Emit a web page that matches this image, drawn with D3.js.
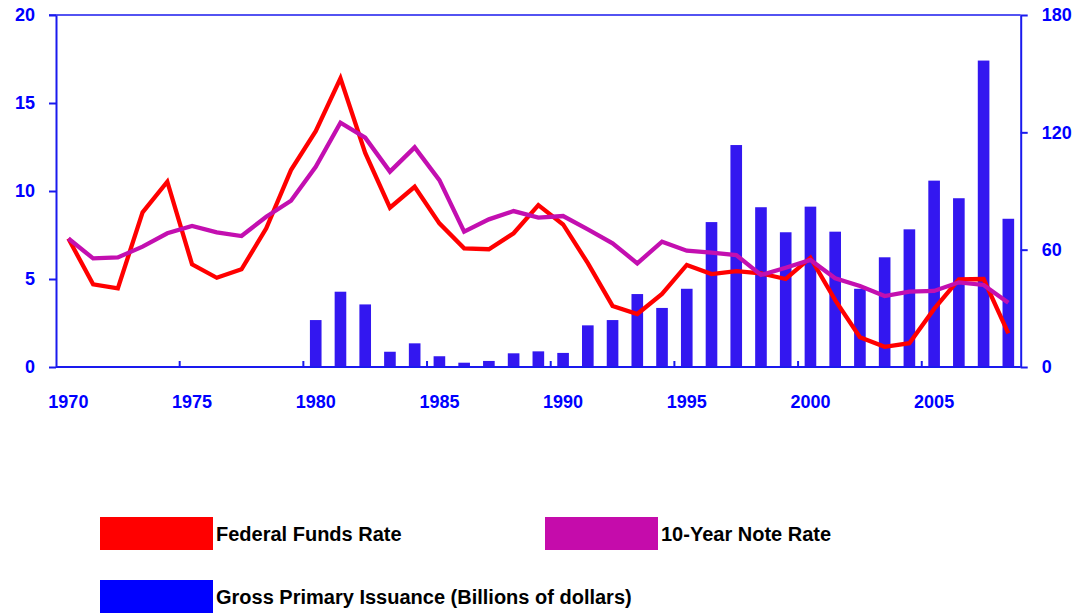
<!DOCTYPE html>
<html>
<head>
<meta charset="utf-8">
<script src="https://cdn.jsdelivr.net/npm/d3@7"></script>
<style>
  body { margin: 0; background: #fff; }
  text { font-family: 'Liberation Sans', Arial, sans-serif; font-weight: bold; }
</style>
</head>
<body>
<div id="chart"></div>
<script>
const years = d3.range(1970, 2009)

// Federal funds rate, percent (left axis)
const fedFunds = [7.3, 4.7, 4.47, 8.79, 10.53, 5.83, 5.07, 5.55, 7.88, 11.19,
  13.4, 16.4, 12.16, 9.05, 10.24, 8.16, 6.74, 6.69, 7.6, 9.2,
  8.1, 5.9, 3.47, 3.01, 4.15, 5.8, 5.28, 5.45, 5.32, 5.0,
  6.21, 3.8, 1.69, 1.15, 1.35, 3.3, 4.98, 5.0, 1.91]

// 10-year note rate, percent (left axis)
const tenYear = [7.3, 6.17, 6.23, 6.84, 7.6, 8.01, 7.65, 7.44, 8.54, 9.45,
  11.38, 13.88, 13.03, 11.1, 12.48, 10.62, 7.69, 8.39, 8.86, 8.49,
  8.58, 7.82, 7.03, 5.89, 7.12, 6.61, 6.5, 6.36, 5.23, 5.64,
  6.08, 5.04, 4.6, 4.03, 4.28, 4.32, 4.81, 4.66, 3.65]

// Gross primary issuance, billions of dollars (right axis), from 1980
const issuanceYears = d3.range(1980, 2009)
const issuance = [24.0, 38.5, 32.0, 7.8, 12.1, 5.5, 2.2, 3.1, 7.0, 8.0,
  7.2, 21.3, 24.0, 37.3, 30.2, 40.0, 74.1, 113.5, 81.7, 68.9,
  82.0, 69.2, 40.0, 56.1, 70.4, 95.3, 86.3, 156.7, 75.8]

const leftTicks = [0, 5, 10, 15, 20]
const rightTicks = [0, 60, 120, 180]
const labelYears = [1970, 1975, 1980, 1985, 1990, 1995, 2000, 2005]

const blue = '#1a1aee'
const width = 1089
const height = 614
const plot = { left: 56, right: 1020.7, top: 15, bottom: 367 }

const svg = d3
  .select('#chart')
  .append('svg')
  .attr('width', width)
  .attr('height', height)

const x = d3.scaleBand().domain(years).range([plot.left, plot.right]).padding(0)
const yLeft = d3.scaleLinear().domain([0, 20]).range([plot.bottom, plot.top])
const yRight = d3.scaleLinear().domain([0, 180]).range([plot.bottom, plot.top])

// bars
svg
  .selectAll('.bar')
  .data(issuanceYears.map((yr, i) => ({ year: yr, value: issuance[i] })))
  .enter()
  .append('rect')
  .attr('class', 'bar')
  .attr('x', d => x(d.year) + x.bandwidth() * 0.265)
  .attr('width', x.bandwidth() * 0.47)
  .attr('y', d => yRight(d.value))
  .attr('height', d => yRight(0) - yRight(d.value))
  .attr('fill', '#3317f0')

// lines
const line = d3
  .line()
  .x((d, i) => x(years[i]) + x.bandwidth() / 2)
  .y(d => yLeft(d))

svg
  .append('path')
  .datum(fedFunds)
  .attr('d', line)
  .attr('fill', 'none')
  .attr('stroke', '#ff0000')
  .attr('stroke-width', 4.3)

svg
  .append('path')
  .datum(tenYear)
  .attr('d', line)
  .attr('fill', 'none')
  .attr('stroke', '#c30fb0')
  .attr('stroke-width', 4.3)

// frame
svg
  .append('line')
  .attr('x1', plot.left - 7).attr('x2', plot.right)
  .attr('y1', plot.top).attr('y2', plot.top)
  .attr('stroke', blue).attr('stroke-width', 1.5)

// left axis
const leftAxis = svg
  .append('g')
  .attr('transform', `translate(${plot.left},0)`)
  .call(d3.axisLeft(yLeft).tickValues(leftTicks).tickSize(7).tickSizeOuter(0).tickPadding(14))
leftAxis.select('.domain').attr('stroke', blue).attr('stroke-width', 2)
leftAxis.selectAll('.tick line').attr('stroke', blue).attr('stroke-width', 2)
leftAxis.selectAll('text').attr('fill', '#0000ff').style('font-size', '18px')

// right axis
const rightAxis = svg
  .append('g')
  .attr('transform', `translate(${plot.right},0)`)
  .call(d3.axisRight(yRight).tickValues(rightTicks).tickSize(7).tickSizeOuter(0).tickPadding(14))
rightAxis.select('.domain').attr('stroke', blue).attr('stroke-width', 2)
rightAxis.selectAll('.tick line').attr('stroke', blue).attr('stroke-width', 2)
rightAxis.selectAll('text').attr('fill', '#0000ff').style('font-size', '18px')

// bottom axis
svg
  .append('line')
  .attr('x1', plot.left).attr('x2', plot.right)
  .attr('y1', plot.bottom).attr('y2', plot.bottom)
  .attr('stroke', blue).attr('stroke-width', 2)

svg
  .selectAll('.xtick')
  .data(labelYears.slice(1))
  .enter()
  .append('line')
  .attr('class', 'xtick')
  .attr('x1', d => x(d)).attr('x2', d => x(d))
  .attr('y1', plot.bottom).attr('y2', plot.bottom - 6)
  .attr('stroke', blue).attr('stroke-width', 2)

svg
  .selectAll('.xlabel')
  .data(labelYears)
  .enter()
  .append('text')
  .attr('class', 'xlabel')
  .attr('x', d => x(d) + x.bandwidth() / 2)
  .attr('y', 408)
  .attr('text-anchor', 'middle')
  .attr('fill', '#0000ff')
  .style('font-size', '18px')
  .text(d => d)

// legend
const legend = [
  { name: 'Federal Funds Rate', color: '#ff0000', x: 100, y: 517 },
  { name: '10-Year Note Rate', color: '#c50cab', x: 545, y: 517 },
  { name: 'Gross Primary Issuance (Billions of dollars)', color: '#0000ff', x: 100, y: 580 }
]

const lg = svg
  .selectAll('.legend')
  .data(legend)
  .enter()
  .append('g')
  .attr('class', 'legend')
  .attr('transform', d => `translate(${d.x},${d.y})`)

lg.append('rect')
  .attr('width', 113)
  .attr('height', 33)
  .attr('fill', d => d.color)

lg.append('text')
  .attr('x', 116)
  .attr('y', 24)
  .attr('fill', '#000')
  .style('font-size', '20px')
  .text(d => d.name)
</script>
</body>
</html>
